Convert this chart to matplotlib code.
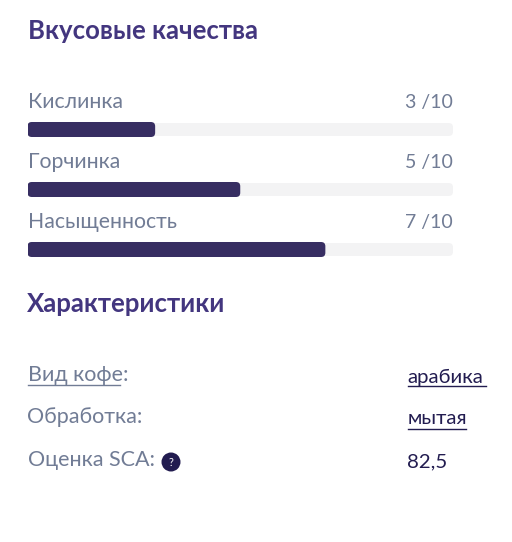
import matplotlib.pyplot as plt
from matplotlib.patches import FancyBboxPatch
from matplotlib.lines import Line2D

W, H = 512, 542

plt.rcParams['font.family'] = ['Lato', 'Open Sans', 'DejaVu Sans']

taste_labels = ["Кислинка", "Горчинка", "Насыщенность"]
taste_values = [3, 5, 7]
taste_max = 10
spec_labels = ["Вид кофе:", "Обработка:", "Оценка SCA:"]
spec_values = ["арабика", "мытая", "82,5"]

HEAD = "#43367f"
GREY = "#717c95"
BAR = "#372e62"
TRACK = "#f3f3f4"
DARK = "#221c50"

fig = plt.figure(figsize=(W / 100, H / 100), dpi=100, facecolor="white")


def px_text(x, y, s, size, color, **kw):
    # y in pixels from the top
    return fig.text(x / W, 1 - y / H, s, fontsize=size, color=color, va="center", **kw)


def px_line(x0, x1, y, color, lw=1.0):
    fig.add_artist(Line2D([x0 / W, x1 / W], [1 - y / H, 1 - y / H], color=color, lw=lw,
                          transform=fig.transFigure))


px_text(28, 31, "Вкусовые качества", 18.5, HEAD, fontweight="bold")
px_text(27, 304, "Характеристики", 18.5, HEAD, fontweight="bold")

# progress bars, one axes per row, x in score units
bar_tops = [122, 182, 242]
for label, value, top in zip(taste_labels, taste_values, bar_tops):
    ax = fig.add_axes([27.5 / W, 1 - (top + 15) / H, 425.5 / W, 15 / H])
    ax.set_xlim(0, taste_max)
    ax.set_ylim(0, 1)
    ax.axis("off")
    asp = (425.5 / taste_max) / 15
    ax.add_patch(FancyBboxPatch((0, 0.07), taste_max, 0.86,
                                boxstyle="round,pad=0,rounding_size=0.1",
                                mutation_aspect=asp, fc=TRACK, ec="none"))
    ax.add_patch(FancyBboxPatch((0, 0), value, 1,
                                boxstyle="round,pad=0,rounding_size=0.1",
                                mutation_aspect=asp, fc=BAR, ec="none"))
    px_text(27.5, top - 20, label, 15.3, GREY)
    px_text(453, top - 19.5, f"{value} /{taste_max}", 14, GREY, ha="right")

# characteristics
spec_y = [375, 417, 460]
for label, value, y in zip(spec_labels, spec_values, spec_y):
    px_text(27.5, y, label, 15.5, GREY)
    px_text(407.5, y + 2, value, 14.7, DARK)

px_line(28, 120, 385, GREY, 1.0)
px_line(408, 486, 386, DARK, 1.0)
px_line(408, 466, 429, DARK, 1.0)

# help badge
badge = fig.add_axes([161 / W, 1 - 472 / H, 20 / W, 20 / H])
badge.set_xlim(0, 20)
badge.set_ylim(0, 20)
badge.axis("off")
badge.add_patch(plt.Circle((10, 10), 9.5, fc=DARK, ec="none"))
badge.text(10, 10, "?", color="white", fontsize=8, ha="center", va="center")

fig.savefig("out.png", dpi=100, facecolor="white")
